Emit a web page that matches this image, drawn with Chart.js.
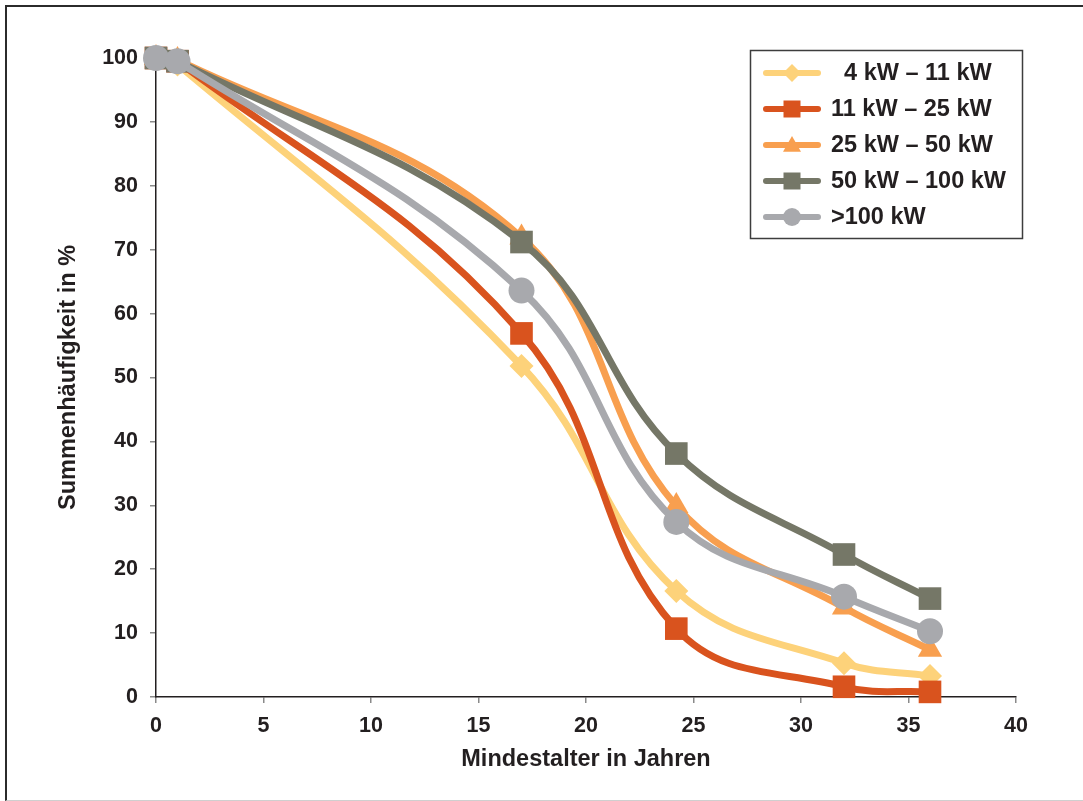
<!DOCTYPE html>
<html>
<head>
<meta charset="utf-8">
<script src="https://cdn.jsdelivr.net/npm/chart.js@4.4.1/dist/chart.umd.min.js"></script>
<style>
html, body { margin: 0; padding: 0; background: #fff; }
#wrap { position: relative; width: 1083px; height: 801px; overflow: hidden; }
#frame { position: absolute; left: 5px; top: 5px; width: 1100px; height: 793px;
  border-left: 2px solid #2b2b2b; border-top: 2px solid #2b2b2b; border-bottom: 1px solid #cfcfcf; }
canvas { position: absolute; left: 0; top: 0; }
</style>
</head>
<body>
<div id="wrap">
  <div id="frame"></div>
  <canvas id="myLineGraph" width="1083" height="801"></canvas>
</div>
<script>
// x values (Mindestalter in Jahren) shared by all series
var ageYears = [0, 1, 17, 24.2, 32, 36];

var seriesNames = ["  4 kW \u2013 11 kW", "11 kW \u2013 25 kW", "25 kW \u2013 50 kW", "50 kW \u2013 100 kW", ">100 kW"];

// Summenhaeufigkeit in %
var kw4to11   = [100, 99.0, 51.8, 16.6, 5.3, 3.3];
var kw11to25  = [100, 99.5, 56.9, 10.7, 1.6, 0.8];
var kw25to50  = [100, 99.7, 71.9, 29.9, 14.0, 7.4];
var kw50to100 = [100, 99.5, 71.2, 38.1, 22.3, 15.4];
var kwOver100 = [100, 99.5, 63.6, 27.4, 15.7, 10.3];

var xTicks = [0, 5, 10, 15, 20, 25, 30, 35, 40];
var yTicks = [0, 10, 20, 30, 40, 50, 60, 70, 80, 90, 100];

var seriesColors = ["#fdd27a", "#d9531e", "#f89f4f", "#757767", "#a8a9ad"];
var seriesStyles = ["rectRot", "rect", "triangle", "rect", "circle"];
var seriesRadius = [12, 16, 14, 16, 13];

var fontFamily = "'Liberation Sans', Arial, Helvetica, sans-serif";

function toPoints(values) {
  var pts = [];
  for (var i = 0; i < values.length; i++) {
    pts.push({ x: ageYears[i], y: values[i] });
  }
  return pts;
}

var allSeries = [kw4to11, kw11to25, kw25to50, kw50to100, kwOver100];
var datasets = [];
for (var i = 0; i < allSeries.length; i++) {
  datasets.push({
    label: seriesNames[i],
    data: toPoints(allSeries[i]),
    borderColor: seriesColors[i],
    backgroundColor: seriesColors[i],
    pointBackgroundColor: seriesColors[i],
    pointBorderWidth: 0,
    pointStyle: seriesStyles[i],
    pointRadius: seriesRadius[i],
    pointHoverRadius: seriesRadius[i],
    borderWidth: 7,
    tension: 0.4,
    fill: false,
    clip: false,
    order: allSeries.length - i   // later series on top, like the original
  });
}

// legend drawn in a box, line + marker like the original
function drawMarker(ctx, style, x, y, r) {
  ctx.beginPath();
  if (style === "rect") {
    ctx.rect(x - r, y - r, 2 * r, 2 * r);
  } else if (style === "rectRot") {
    ctx.moveTo(x - r, y); ctx.lineTo(x, y - r); ctx.lineTo(x + r, y); ctx.lineTo(x, y + r); ctx.closePath();
  } else if (style === "triangle") {
    ctx.moveTo(x, y - r); ctx.lineTo(x + r, y + r * 0.75); ctx.lineTo(x - r, y + r * 0.75); ctx.closePath();
  } else {
    ctx.arc(x, y, r, 0, Math.PI * 2);
  }
  ctx.fill();
}

var legendBox = {
  id: "legendBox",
  afterDraw: function(chart) {
    var ctx = chart.ctx;
    ctx.save();
    ctx.strokeStyle = "#3d3d3d";
    ctx.lineWidth = 1.5;
    ctx.strokeRect(750.5, 50.5, 272, 188);
    var sizes = [9, 8.5, 9, 8.5, 9];
    chart.data.datasets.forEach(function(ds, i) {
      var y = 73 + i * 36;
      ctx.strokeStyle = ds.borderColor;
      ctx.lineWidth = 6;
      ctx.lineCap = "round";
      ctx.beginPath();
      ctx.moveTo(766, y);
      ctx.lineTo(818, y);
      ctx.stroke();
      ctx.fillStyle = ds.borderColor;
      drawMarker(ctx, ds.pointStyle, 792, y, sizes[i]);
      ctx.fillStyle = "#231f20";
      ctx.font = "bold 23.5px " + fontFamily;
      ctx.textBaseline = "middle";
      ctx.textAlign = "left";
      ctx.fillText(ds.label, 831, y + 1);
    });
    ctx.restore();
  }
};

var ctx = document.getElementById("myLineGraph");
var myLineGraph = new Chart(ctx, {
  type: "line",
  data: { datasets: datasets },
  plugins: [legendBox],
  options: {
    responsive: false,
    animation: false,
    events: [],
    layout: { padding: { left: 52, top: 58, right: 67, bottom: 26 } },
    plugins: {
      legend: { display: false },
      tooltip: { enabled: false }
    },
    scales: {
      x: {
        type: "linear",
        min: 0,
        max: 40,
        afterBuildTicks: function(scale) {
          scale.ticks = xTicks.map(function(v) { return { value: v }; });
        },
        afterFit: function(scale) { scale.height = 78; },
        grid: { drawOnChartArea: false, drawTicks: true, tickLength: 6, color: "#8a8a8a", lineWidth: 1.5 },
        border: { display: true, color: "#231f20", width: 1.5 },
        ticks: { color: "#231f20", padding: 10, maxRotation: 0,
          font: { family: fontFamily, size: 21.5, weight: "bold" } },
        title: { display: true, text: "Mindestalter in Jahren", color: "#231f20",
          padding: { top: 4, bottom: 1 },
          font: { family: fontFamily, size: 23.5, weight: "bold" } }
      },
      y: {
        min: 0,
        max: 100,
        afterBuildTicks: function(scale) {
          scale.ticks = yTicks.map(function(v) { return { value: v }; });
        },
        afterFit: function(scale) { scale.width = 104; },
        grid: { drawOnChartArea: false, drawTicks: true, tickLength: 6, color: "#8a8a8a", lineWidth: 1.5 },
        border: { display: true, color: "#231f20", width: 1.5 },
        ticks: { color: "#231f20", padding: 12,
          font: { family: fontFamily, size: 21.5, weight: "bold" } },
        title: { display: true, text: "Summenh\u00e4ufigkeit in %", color: "#231f20",
          padding: { top: 2, bottom: 4 },
          font: { family: fontFamily, size: 23.5, weight: "bold" } }
      }
    }
  }
});
</script>
</body>
</html>
